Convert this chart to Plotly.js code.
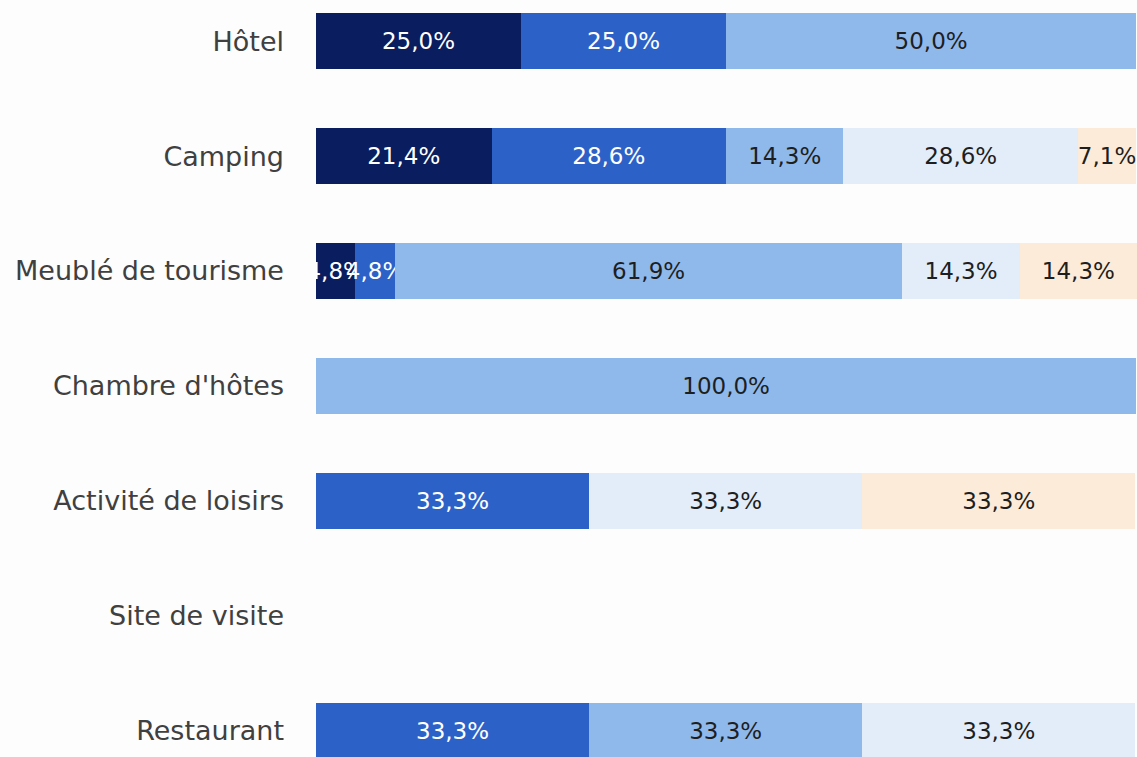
<!DOCTYPE html>
<html>
<head>
<meta charset="utf-8">
<script src="https://cdn.plot.ly/plotly-3.0.1.min.js"></script>
<style>html,body{margin:0;padding:0;background:#fdfdfd;}#chart{width:1137px;height:757px;}</style>
</head>
<body>
<div id="chart"></div>
<script>
const categories = ["Hôtel", "Camping", "Meublé de tourisme", "Chambre d'hôtes", "Activité de loisirs", "Site de visite", "Restaurant"];
const seriesNames = ["Série 1", "Série 2", "Série 3", "Série 4", "Série 5"];
const s1 = [25.0, 21.4, 4.8, null, null, null, null];
const s2 = [25.0, 28.6, 4.8, null, 33.3, null, 33.3];
const s3 = [50.0, 14.3, 61.9, 100.0, null, null, 33.3];
const s4 = [null, 28.6, 14.3, null, 33.3, null, 33.3];
const s5 = [null, 7.1, 14.3, null, 33.3, null, null];
const seriesValues = [s1, s2, s3, s4, s5];
const colors = ["#0a1d5e", "#2c62c8", "#8fb9eb", "#e2edf9", "#fdebd9"];
const textColors = ["#ffffff", "#ffffff", "#1e1e1e", "#1e1e1e", "#1e1e1e"];
const FONT = "'DejaVu Sans', sans-serif";

const traces = seriesValues.map((vals, i) => ({
  type: "bar",
  orientation: "h",
  name: seriesNames[i],
  y: categories,
  x: vals,
  width: 0.487,
  marker: {color: colors[i], line: {width: 0}},
  texttemplate: "%{x:.1f}%",
  textposition: "inside",
  insidetextanchor: "middle",
  constraintext: "none",
  textangle: 0,
  textfont: {family: FONT, size: 23, color: textColors[i]},
  hovertemplate: "%{y}: %{x:.1f}%<extra>" + seriesNames[i] + "</extra>"
}));

const layout = {
  width: 1137, height: 757,
  barmode: "stack",
  separators: ", ",
  showlegend: false,
  paper_bgcolor: "#fdfdfd",
  plot_bgcolor: "#fdfdfd",
  margin: {l: 316, r: 0, t: 0, b: 0, pad: 0},
  font: {family: FONT, size: 27, color: "#404040"},
  xaxis: {range: [0, 100.1], visible: false, fixedrange: true},
  yaxis: {
    type: "category",
    categoryorder: "array",
    categoryarray: categories,
    range: [6.226, -0.357],
    showgrid: false, zeroline: false, showline: false,
    ticks: "", ticklabelstandoff: 31,
    tickfont: {family: FONT, size: 27, color: "#404040"}
  }
};

Plotly.newPlot("chart", traces, layout, {displayModeBar: false, staticPlot: true});
</script>
</body>
</html>
